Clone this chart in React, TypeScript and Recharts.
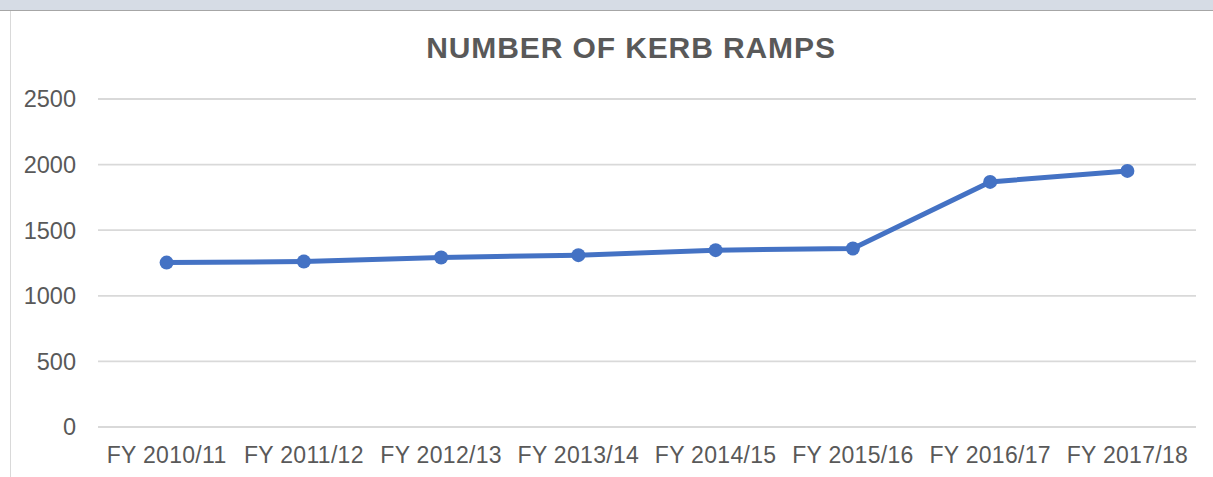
import React from "react";
import { LineChart, Line, XAxis, YAxis, CartesianGrid } from "recharts";

const categories = [
  "FY 2010/11",
  "FY 2011/12",
  "FY 2012/13",
  "FY 2013/14",
  "FY 2014/15",
  "FY 2015/16",
  "FY 2016/17",
  "FY 2017/18",
];
const kerbRamps = [1253, 1261, 1292, 1310, 1348, 1360, 1868, 1952];
const yTicks = [0, 500, 1000, 1500, 2000, 2500];

const data = categories.map((c, i) => ({ name: c, value: kerbRamps[i] }));

const FONT = "'Liberation Sans', Arial, sans-serif";

export default function App() {
  return (
    <div
      style={{
        position: "fixed",
        left: 0,
        top: 0,
        width: 1213,
        height: 477,
        background: "#ffffff",
        overflow: "hidden",
        fontFamily: FONT,
      }}
    >
      <div
        style={{
          position: "absolute",
          left: 0,
          top: 0,
          width: 1213,
          height: 10,
          background: "#d6dce5",
          borderBottom: "1px solid #a6a6a6",
        }}
      />
      <div
        style={{
          position: "absolute",
          left: 10,
          top: 11,
          width: 1,
          height: 466,
          background: "#d9d9d9",
        }}
      />
      <div
        style={{
          position: "absolute",
          left: 0,
          top: 28,
          width: 1262,
          textAlign: "center",
          fontSize: 30,
          fontWeight: "bold",
          color: "#595959",
          letterSpacing: 0.9,
          lineHeight: "40px",
        }}
      >
        NUMBER OF KERB RAMPS
      </div>
      <div style={{ position: "absolute", left: 0, top: 0 }}>
        <LineChart
          width={1196}
          height={477}
          data={data}
          margin={{ top: 99, right: 0, bottom: 20, left: 0 }}
        >
          <CartesianGrid
            vertical={false}
            stroke="#d9d9d9"
            strokeWidth={1.8}
          />
          <XAxis
            dataKey="name"
            axisLine={false}
            tickLine={false}
            tickSize={0}
            tickMargin={20}
            height={30}
            interval={0}
            padding={{ left: 68.6, right: 68.6 }}
            tick={{ fill: "#595959", fontSize: 23, fontFamily: FONT, letterSpacing: 0.3 }}
          />
          <YAxis
            domain={[0, 2500]}
            ticks={yTicks}
            axisLine={false}
            tickLine={false}
            tickSize={0}
            tickMargin={22}
            width={98}
            tick={{ fill: "#595959", fontSize: 23.5, fontFamily: FONT }}
          />
          <Line
            type="linear"
            dataKey="value"
            stroke="#4472c4"
            strokeWidth={5}
            dot={{ r: 7, fill: "#4472c4", stroke: "#4472c4", strokeWidth: 0 }}
            isAnimationActive={false}
          />
        </LineChart>
      </div>
    </div>
  );
}
